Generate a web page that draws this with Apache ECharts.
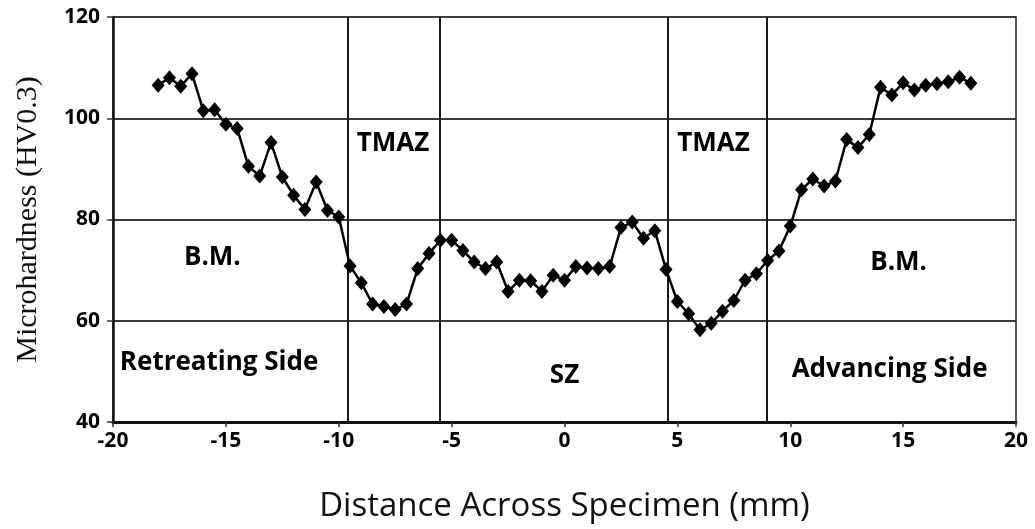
<!DOCTYPE html>
<html>
<head>
<meta charset="utf-8">
<title>Microhardness profile</title>
<script src="https://cdn.jsdelivr.net/npm/echarts@6/dist/echarts.min.js"></script>
<style>
  html, body { margin: 0; padding: 0; background: #fff; }
  #chart { width: 1035px; height: 529px; }
</style>
</head>
<body>
<div id="chart"></div>
<script>
// distance across the specimen (mm)
const distance = [
  -18, -17.5, -17, -16.5, -16, -15.5, -15, -14.5, -14, -13.5, -13, -12.5, -12,
  -11.5, -11, -10.5, -10, -9.5, -9, -8.5, -8, -7.5, -7, -6.5, -6, -5.5, -5,
  -4.5, -4, -3.5, -3, -2.5, -2, -1.5, -1, -0.5, 0, 0.5, 1, 1.5, 2, 2.5, 3,
  3.5, 4, 4.5, 5, 5.5, 6, 6.5, 7, 7.5, 8, 8.5, 9, 9.5, 10, 10.5, 11, 11.5,
  12, 12.5, 13, 13.5, 14, 14.5, 15, 15.5, 16, 16.5, 17, 17.5, 18
]
// microhardness HV0.3
const hardness = [
  106.5, 108.0, 106.3, 108.8, 101.5, 101.7, 98.8, 98.0, 90.5, 88.6, 95.2, 88.4, 84.8,
  82.0, 87.4, 81.8, 80.5, 70.8, 67.5, 63.3, 62.8, 62.2, 63.3, 70.3, 73.3, 75.9, 75.9,
  73.9, 71.6, 70.3, 71.6, 65.8, 68.0, 67.9, 65.8, 69.0, 68.0, 70.7, 70.4, 70.3, 70.7, 78.4, 79.5,
  76.3, 77.8, 70.1, 63.8, 61.4, 58.2, 59.5, 61.9, 64.0, 68.0, 69.3, 71.9, 73.8, 78.7, 85.9, 88.0, 86.6,
  87.6, 95.8, 94.2, 96.8, 106.1, 104.6, 107.0, 105.6, 106.5, 106.8, 107.2, 108.1, 106.9
]
// zone boundaries (mm)
const zoneBounds = [-9.58, -5.52, 4.56, 8.96]
// zone labels: text, x (mm), y (HV)
const zoneNames = ['Retreating Side', 'B.M.', 'TMAZ', 'SZ', 'TMAZ', 'B.M.', 'Advancing Side']
const zoneX = [-15.3, -15.6, -7.6, 0.0, 6.6, 14.8, 14.4]
const zoneY = [51.8, 72.5, 95.0, 49.2, 95.0, 71.5, 50.3]

const xTicks = [-20, -15, -10, -5, 0, 5, 10, 15, 20]
const yTicks = [40, 60, 80, 100, 120]

const chart = echarts.init(document.getElementById('chart'))

const points = distance.map((d, i) => [d, hardness[i]])
const labelPoints = zoneNames.map((n, i) => [zoneX[i], zoneY[i], n])

const option = {
  animation: false,
  grid: {
    left: 113,
    right: 19,
    top: 17,
    bottom: 107,
    show: true,
    borderColor: '#222',
    borderWidth: 1.5
  },
  xAxis: {
    type: 'value',
    min: xTicks[0],
    max: xTicks[xTicks.length - 1],
    interval: 5,
    name: 'Distance Across Specimen (mm)',
    nameLocation: 'middle',
    nameGap: 68,
    nameTextStyle: { fontFamily: 'Open Sans', fontSize: 33, color: '#111' },
    axisLine: { onZero: false, lineStyle: { color: '#111', width: 3 } },
    axisTick: { show: true, length: 5, lineStyle: { color: '#333', width: 1.5 } },
    axisLabel: {
      margin: 9,
      fontFamily: 'Open Sans',
      fontWeight: 'bold',
      fontSize: 21,
      color: '#000'
    },
    splitLine: { show: false }
  },
  yAxis: {
    type: 'value',
    min: yTicks[0],
    max: yTicks[yTicks.length - 1],
    interval: 20,
    name: 'Microhardness (HV0.3)',
    nameLocation: 'middle',
    nameGap: 70,
    nameTextStyle: { fontFamily: 'Liberation Serif', fontSize: 30, color: '#111' },
    axisLine: { show: true, onZero: false, lineStyle: { color: '#111', width: 2.5 } },
    axisTick: { show: true, length: 6, lineStyle: { color: '#333', width: 1.5 } },
    axisLabel: {
      margin: 13,
      fontFamily: 'Open Sans',
      fontWeight: 'bold',
      fontSize: 21,
      color: '#000'
    },
    splitLine: { show: true, lineStyle: { color: '#3a3a3a', width: 2 } }
  },
  series: [
    {
      name: 'Microhardness',
      type: 'line',
      data: points,
      symbol: 'diamond',
      symbolSize: [13, 15],
      itemStyle: { color: '#000' },
      lineStyle: { color: '#000', width: 2.5 },
      z: 5,
      markLine: {
        silent: true,
        symbol: 'none',
        label: { show: false },
        lineStyle: { color: '#1a1a1a', width: 2, type: 'solid' },
        data: zoneBounds.map((b) => ({ xAxis: b }))
      }
    },
    {
      name: 'zones',
      type: 'scatter',
      data: labelPoints,
      symbolSize: 0,
      silent: true,
      itemStyle: { opacity: 1, color: '#000' },
      label: {
        show: true,
        position: 'inside',
        formatter: (p) => p.data[2],
        fontFamily: 'Open Sans',
        fontWeight: 'bold',
        fontSize: 26,
        color: '#000',
        textBorderWidth: 0
      }
    }
  ]
}
chart.setOption(option)
</script>
</body>
</html>
